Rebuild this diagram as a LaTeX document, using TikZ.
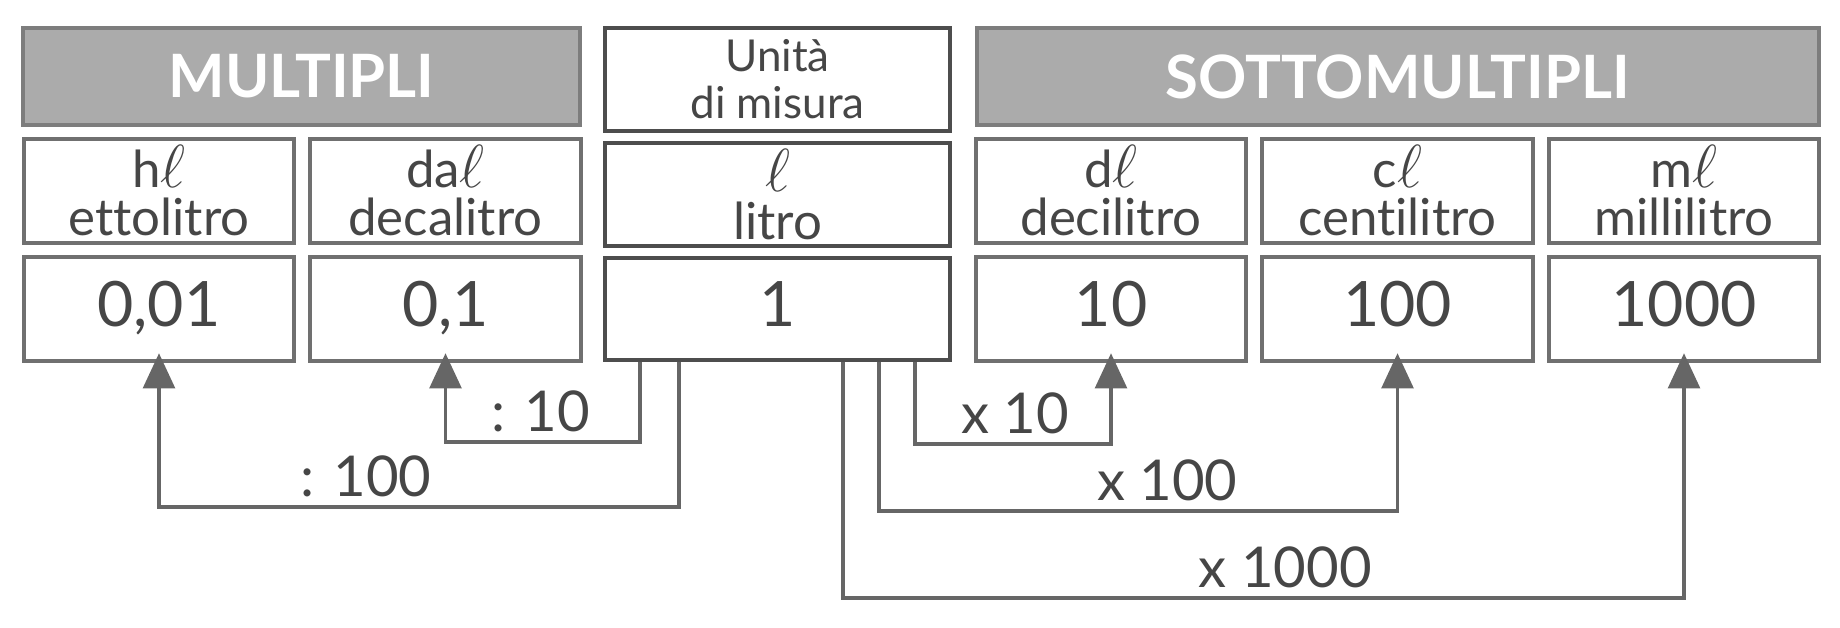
\documentclass[tikz,border=0pt]{standalone}
\usepackage{fontspec}
\setmainfont[Ligatures=NoCommon]{Lato}
\usetikzlibrary{arrows.meta,positioning,calc}
\definecolor{LtInk}{RGB}{70,70,70}
\definecolor{LtGray}{RGB}{112,112,112}
\definecolor{LtDark}{RGB}{77,77,77}
\definecolor{LtHead}{RGB}{171,171,171}
\definecolor{LtHeadLine}{RGB}{125,125,125}
\definecolor{LtArrow}{RGB}{102,102,102}
\newcommand{\litre}{{\fontsize{19}{13.7}\selectfont$\ell$}}
\tikzset{
  lt/box/.style={
    draw=LtGray,
    line width=1.15pt,
    fill=white,
    align=center,
    text=LtInk,
    inner sep=0pt,
    minimum width=2.7cm,
    minimum height=1.04cm
  },
  lt/unit/.style={
    lt/box,
    draw=LtDark,
    line width=1.3pt,
    minimum width=3.45cm
  },
  lt/head/.style={
    draw=LtHeadLine,
    line width=1.15pt,
    fill=LtHead,
    text=white,
    inner sep=0pt,
    minimum height=0.97cm,
    font=\bfseries\fontsize{17}{20}\selectfont
  },
  lt/name/.style={font=\fontsize{14.5}{13.7}\selectfont},
  lt/value/.style={font=\fontsize{17.8}{20}\selectfont, text height=12.8pt, text depth=3pt},
  lt/arrow/.style={-{Triangle[length=10pt,width=9pt]}, line width=1.1pt, draw=LtArrow, shorten >=-2.8pt},
  lt/label/.style={font=\fontsize{16}{18}\selectfont, text=LtInk, inner sep=1.5pt}
}

\begin{document}
\begin{tikzpicture}[x=0.01cm,y=-0.01cm]
  \useasboundingbox (0,0) rectangle (1840,627);
  % headers
  \node[lt/head, minimum width=5.57cm] (multi) at (301.5,76.5) {MULTIPLI};
  \node[lt/head, minimum width=8.42cm] (sotto) at (1398,76.5) {SOTTOMULTIPLI};
  % unit column
  \node[lt/unit, minimum height=1.03cm, font=\fontsize{12.5}{13.4}\selectfont] (unita) at (777.5,79.5) {Unità\\di misura};
  \node[lt/unit, lt/name, minimum height=1.03cm] (litro) at (777.5,194.5) {\litre\\litro};
  \node[lt/unit, lt/value, minimum height=1.02cm] (one) at (777.5,309) {1};
  % multiples and submultiples
  \foreach \nm/\pre/\txt/\val/\x in {
    hl/h/ettolitro/{0,01}/159, dal/da/decalitro/{0,1}/445.5,
    dl/d/decilitro/10/1111, cl/c/centilitro/100/1397.5, ml/m/millilitro/1000/1684}
  {
    \node[lt/box, lt/name] (\nm) at (\x,191) {\pre\litre\\\txt};
    \node[lt/box, lt/value] (\nm-v) at (\x,309) {\val};
  }
  % conversions
  \draw[lt/arrow] ([xshift=-1.375cm]one.south) -- ++(0,80) -| node[lt/label, above=1pt, pos=0.255] {: 10} (dal-v.south);
  \draw[lt/arrow] ([xshift=-0.985cm]one.south) -- ++(0,145) -| node[lt/label, above=1pt, pos=0.301] {: 100} (hl-v.south);
  \draw[lt/arrow] ([xshift=1.375cm]one.south) -- ++(0,82) -| node[lt/label, above=1pt, pos=0.256] {x 10} (dl-v.south);
  \draw[lt/arrow] ([xshift=1.015cm]one.south) -- ++(0,149) -| node[lt/label, above=1pt, pos=0.278] {x 100} (cl-v.south);
  \draw[lt/arrow] ([xshift=0.655cm]one.south) -- ++(0,236) -| node[lt/label, above=1pt, pos=0.263] {x 1000} (ml-v.south);
\end{tikzpicture}
\end{document}
